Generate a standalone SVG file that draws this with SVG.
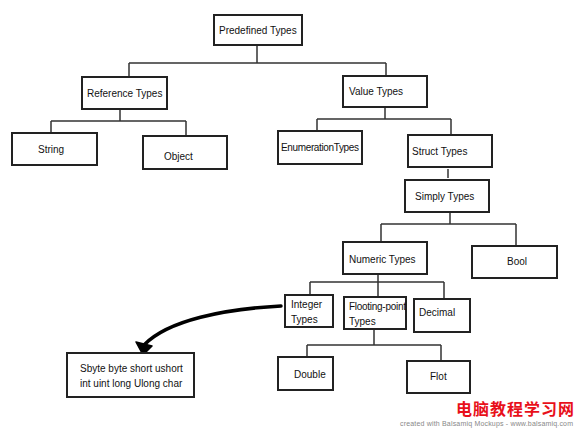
<svg xmlns="http://www.w3.org/2000/svg" width="580" height="431" viewBox="0 0 580 431">
<defs>
<style>
.box{fill:#fff;stroke:#222;stroke-width:2}
.t{font-family:"Liberation Sans",Arial,sans-serif;font-size:10px;fill:#111}
.c{fill:none;stroke:#333;stroke-width:1.5}
.arr{fill:none;stroke:#000;stroke-width:3.5;stroke-linecap:round}
</style>
</defs>
<rect width="580" height="431" fill="#fff"/>
<g id="connectors">
<path class="c" d="M257,45 V63 M129,63 H386 M129,63 V77 M386,63 V76"/>
<path class="c" d="M120,109 V121 M51,121 H186 M51,121 V133 M186,121 V136"/>
<path class="c" d="M385,107 V119 M317,119 H451 M317,119 V131 M451,119 V135"/>
<path class="c" d="M448,169 V178"/>
<path class="c" d="M450,213 V224 M381,224 H516 M381,224 V242 M516,224 V246"/>
<path class="c" d="M378,274 V282 M310,282 H444 M310,282 V295 M378,282 V297 M444,282 V299"/>
<path class="c" d="M374,329 V345 M307,345 H441 M307,345 V357 M441,345 V361"/>
<path class="arr" d="M281,306 C225,309 168,320 144,345"/>
<path d="M136,342 L152,346 L143,355 Z" fill="#000" stroke="#000" stroke-width="1.5" stroke-linejoin="round"/>
</g>
<g id="predefined"><rect class="box" x="214" y="15" width="88" height="30"/><text class="t" x="219" y="33.5">Predefined Types</text></g>
<g id="reference"><rect class="box" x="82" y="77" width="85" height="32"/><text class="t" x="87" y="96.5">Reference Types</text></g>
<g id="value"><rect class="box" x="343" y="76" width="84" height="31"/><text class="t" x="349" y="95">Value Types</text></g>
<g id="string"><rect class="box" x="12" y="133" width="85" height="32"/><text class="t" x="38" y="153">String</text></g>
<g id="object"><rect class="box" x="143" y="136" width="84" height="33"/><text class="t" x="164" y="159.5">Object</text></g>
<g id="enumeration"><rect class="box" x="278" y="131" width="84" height="33"/><text class="t" x="281" y="150.5" textLength="78">EnumerationTypes</text></g>
<g id="struct"><rect class="box" x="408" y="135" width="84" height="32"/><text class="t" x="412" y="154.5">Struct Types</text></g>
<g id="simply"><rect class="box" x="405" y="180" width="84" height="32"/><text class="t" x="415" y="199.5">Simply Types</text></g>
<g id="numeric"><rect class="box" x="343" y="242" width="84" height="32"/><text class="t" x="349" y="262.5">Numeric Types</text></g>
<g id="bool"><rect class="box" x="472" y="246" width="85" height="32"/><text class="t" x="507" y="264.5">Bool</text></g>
<g id="integer"><rect class="box" x="285" y="295" width="48" height="32"/><text class="t" x="291" y="307.5">Integer</text><text class="t" x="291" y="322.5">Types</text></g>
<g id="floating"><rect class="box" x="344" y="297" width="62" height="32"/><text class="t" x="349" y="309.5" textLength="57">Flooting-point</text><text class="t" x="349" y="324.5">Types</text></g>
<g id="decimal"><rect class="box" x="414" y="299" width="56" height="33"/><text class="t" x="419" y="315.5">Decimal</text></g>
<g id="double"><rect class="box" x="278" y="357" width="55" height="33"/><text class="t" x="294" y="377.5">Double</text></g>
<g id="flot"><rect class="box" x="407" y="361" width="63" height="32"/><text class="t" x="430" y="379.5">Flot</text></g>
<g id="integers-list"><rect class="box" x="67" y="353" width="127" height="44"/><text class="t" x="80" y="371.5">Sbyte byte short ushort</text><text class="t" x="80" y="386.5">int uint long Ulong char</text></g>
<text x="400" y="426" font-family="'Liberation Sans',Arial,sans-serif" font-size="7" fill="#888" textLength="173">created with Balsamiq Mockups - www.balsamiq.com</text>
<text x="456" y="415" font-family="'Noto Sans CJK SC',sans-serif" font-size="16" font-weight="bold" fill="#e8101a" textLength="118">电脑教程学习网</text>
</svg>
